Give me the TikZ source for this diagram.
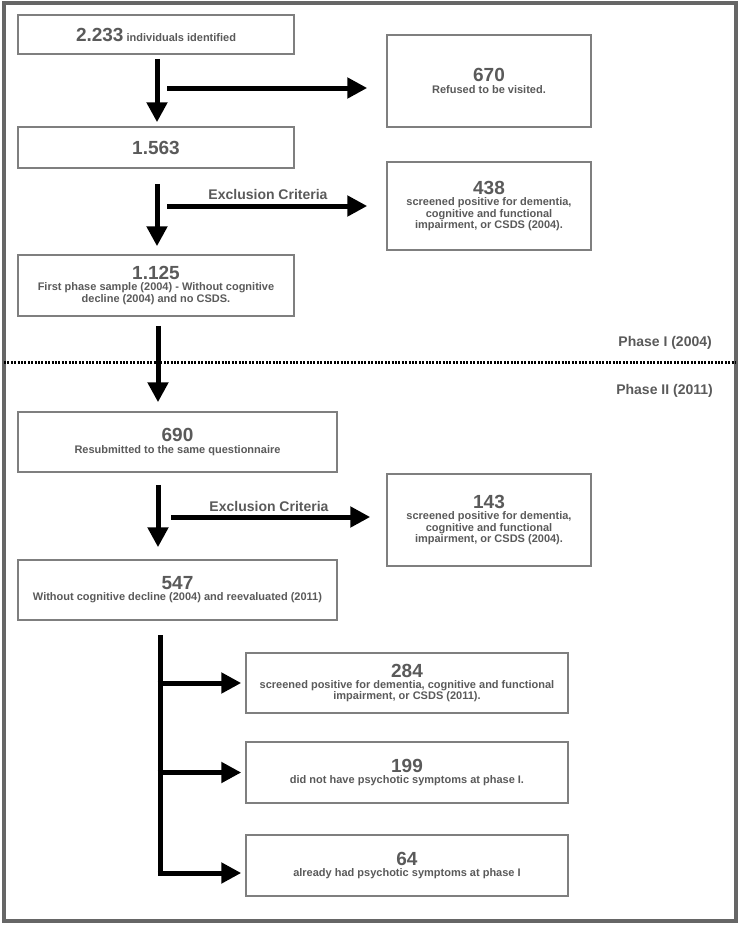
\documentclass[tikz,border=0pt]{standalone}
\usepackage{fontspec}
\setmainfont{Liberation Sans}
\usetikzlibrary{arrows.meta}
\definecolor{txtgray}{HTML}{5A5A5A}
\definecolor{boxgray}{HTML}{7F7F7F}
\definecolor{framegray}{HTML}{666666}
\newcommand\bignum[1]{{\fontsize{19}{19}\selectfont #1}}
\tikzset{
  box/.style={draw=boxgray, line width=1.5pt, fill=white, text=txtgray, align=center,
    inner sep=0pt, font=\bfseries\fontsize{11}{11.2}\selectfont},
  arr/.style={line width=5pt, -{Triangle[length=20pt,width=20pt]}},
  plainline/.style={line width=5pt},
  lbl/.style={text=txtgray, font=\bfseries\fontsize{14}{16}\selectfont, inner sep=0pt},
  framebox/.style={draw=framegray, line width=4.5pt},
  divider/.style={line width=3pt, dash pattern=on 2pt off 1.4pt},
}
\begin{document}
\begin{tikzpicture}[x=1pt,y=-1pt]
\useasboundingbox (0,0) rectangle (740,927);
\draw[framebox] (4,3) rectangle (736,921);

% boxes
\node[box, minimum width=276pt, minimum height=39pt] (A) at (156,34.5)
  {\bignum{2.233} individuals identified};
\node[box, minimum width=204pt, minimum height=92pt] (B) at (489,81)
  {\bignum{670}\\Refused to be visited.};
\node[box, minimum width=276pt, minimum height=41pt] (C) at (156,147.5)
  {\bignum{1.563}};
\node[box, minimum width=204pt, minimum height=88pt] (D) at (489,206)
  {\bignum{438}\\screened positive for dementia,\\cognitive and functional\\impairment, or CSDS (2004).};
\node[box, minimum width=276pt, minimum height=61pt] (E) at (156,285.5)
  {\bignum{1.125}\\First phase sample (2004) - Without cognitive\\decline (2004) and no CSDS.};
\node[box, minimum width=319pt, minimum height=60pt] (F) at (177.5,442)
  {\bignum{690}\\Resubmitted to the same questionnaire};
\node[box, minimum width=204pt, minimum height=92pt] (G) at (489,520)
  {\bignum{143}\\screened positive for dementia,\\cognitive and functional\\impairment, or CSDS (2004).};
\node[box, minimum width=319pt, minimum height=60pt] (H) at (177.5,590)
  {\bignum{547}\\Without cognitive decline (2004) and reevaluated (2011)};
\node[box, minimum width=322pt, minimum height=60pt] (I) at (407,683)
  {\bignum{284}\\screened positive for dementia, cognitive and functional\\impairment, or CSDS (2011).};
\node[box, minimum width=322pt, minimum height=61pt] (J) at (407,772.5)
  {\bignum{199}\\did not have psychotic symptoms at phase I.};
\node[box, minimum width=322pt, minimum height=61pt] (K) at (407,865.5)
  {\bignum{64}\\already had psychotic symptoms at phase I};

% phase labels and divider
\node[lbl, anchor=east] (p1) at (712,343) {Phase I (2004)};
\node[lbl, anchor=east] (p2) at (713,391) {Phase II (2011)};
\coordinate (dl) at (4,362);
\coordinate (dr) at (736,362);
\draw[divider] (dl) -- (dr);

% vertical arrows
\draw[arr, shorten <=4pt, shorten >=4pt] ([xshift=1pt]A.south) -- ([xshift=1pt]C.north);
\draw[arr, shorten <=15pt, shorten >=8pt] ([xshift=1pt]C.south) -- ([xshift=1pt]E.north);
\draw[arr, shorten <=9pt, shorten >=9pt] ([xshift=2pt]E.south) -- ([xshift=2pt]E.south |- F.north);
\draw[arr, shorten <=12pt, shorten >=12pt] ([xshift=-19.5pt]F.south) -- ([xshift=-19.5pt]H.north);

% horizontal arrows
\coordinate (h1) at (167,88);
\draw[arr, shorten >=19pt] (h1) -- (h1 -| B.west);
\coordinate (h2) at (167,206);
\draw[arr, shorten >=19pt] (h2) -- (h2 -| D.west);
\node[lbl] (ex1) at (268,194) {Exclusion Criteria};
\coordinate (h3) at (171,517);
\draw[arr, shorten >=16pt] (h3) -- (h3 -| G.west);
\node[lbl] (ex2) at (269,506) {Exclusion Criteria};

% branch
\coordinate (b0) at (160,635);
\coordinate (b1) at (160,683);
\coordinate (b2) at (160,772.5);
\coordinate (b3) at (160,873);
\draw[plainline] (b0) -- ([yshift=-2.5pt]b3);
\draw[arr, shorten >=4pt] ([xshift=-2.5pt]b1) -- (b1 -| I.west);
\draw[arr, shorten >=4pt] ([xshift=-2.5pt]b2) -- (b2 -| J.west);
\draw[arr, shorten >=4pt] ([xshift=-2.5pt]b3) -- (b3 -| K.west);
\end{tikzpicture}
\end{document}
